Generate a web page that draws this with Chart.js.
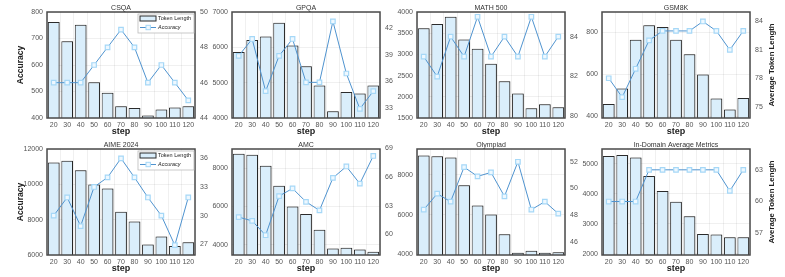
<!DOCTYPE html>
<html>
<head>
<meta charset="utf-8">
<script src="https://cdn.jsdelivr.net/npm/chart.js@4.4.0/dist/chart.umd.min.js"></script>
<style>
  html, body { margin: 0; padding: 0; background: #fff; width: 785px; height: 277px; overflow: hidden; }
  canvas { position: absolute; }
</style>
</head>
<body>
<script>
const steps = ['20', '30', '40', '50', '60', '70', '80', '90', '100', '110', '120'];

const csqaTokens = [762, 690, 752, 535, 495, 444, 438, 409, 432, 440, 444];
const csqaAcc = [46, 46, 46, 47, 48, 49, 48, 46, 47, 46, 45];
const gpqaTokens = [5865, 6205, 6310, 6697, 6054, 5467, 4919, 4189, 4738, 4690, 4919];
const gpqaAcc = [38.9, 40.8, 34.9, 38.9, 40.8, 35.9, 35.9, 42.8, 36.9, 32.9, 34.9];
const mathTokens = [3614, 3716, 3890, 3353, 3133, 2778, 2368, 2076, 1729, 1823, 1752];
const mathAcc = [83, 82, 84, 83, 85, 83, 84, 83, 85, 83, 84];
const gsmTokens = [459, 532, 763, 832, 824, 763, 694, 598, 484, 432, 487];
const gsmAcc = [78, 76, 79, 82, 83, 83, 83, 84, 83, 81, 83];
const aimeTokens = [11240, 11335, 10800, 9990, 9770, 8450, 7900, 6590, 7050, 6510, 6720];
const aimeAcc = [30, 31.9, 28.9, 33, 34, 36, 34, 31.9, 30, 26.9, 31.9];
const amcTokens = [8751, 8699, 8122, 7075, 6000, 5598, 4777, 3799, 3834, 3747, 3625];
const amcAcc = [61.8, 61.4, 59.9, 64.0, 64.8, 63.4, 62.5, 65.9, 67.1, 65.3, 68.2];
const olyTokens = [8975, 8941, 8874, 7479, 6454, 6000, 5008, 4084, 4185, 4084, 4100];
const olyAcc = [48.4, 49.6, 49.0, 51.6, 50.9, 51.2, 49.4, 52.0, 48.4, 49.0, 48.1];
const avgTokens = [5268, 5301, 5212, 4599, 4100, 3740, 3256, 2660, 2640, 2550, 2550];
const avgAcc = [60, 60, 60, 63, 63, 63, 63, 63, 63, 61, 63];

// tick labels
const csqaLeftTicks = [400, 500, 600, 700, 800], csqaRightTicks = [44, 46, 48, 50];
const gpqaLeftTicks = [4000, 5000, 6000, 7000], gpqaRightTicks = [33, 36, 39, 42];
const mathLeftTicks = [1500, 2000, 2500, 3000, 3500, 4000], mathRightTicks = [80, 82, 84];
const gsmLeftTicks = [400, 600, 800], gsmRightTicks = [75, 78, 81, 84];
const aimeLeftTicks = [6000, 8000, 10000, 12000], aimeRightTicks = [27, 30, 33, 36];
const amcLeftTicks = [4000, 6000, 8000], amcRightTicks = [60, 63, 66, 69];
const olyLeftTicks = [4000, 6000, 8000], olyRightTicks = [46, 48, 50, 52];
const avgLeftTicks = [2000, 3000, 4000, 5000], avgRightTicks = [57, 60, 63];

const LW = 40, RW = 34, TH = 12, BH = 19, PW = 148, PH = 106;
const FONT = "'Liberation Sans', Arial, sans-serif";

const panels = [
  { title: 'CSQA', tokens: csqaTokens, acc: csqaAcc, l: [400, 800], lt: csqaLeftTicks, r: [44, 50], rt: csqaRightTicks, x: 47, y: 12, legend: true, first: true },
  { title: 'GPQA', tokens: gpqaTokens, acc: gpqaAcc, l: [4000, 7000], lt: gpqaLeftTicks, r: [31.87, 43.85], rt: gpqaRightTicks, x: 232, y: 12 },
  { title: 'MATH 500', tokens: mathTokens, acc: mathAcc, l: [1500, 4000], lt: mathLeftTicks, r: [79.92, 85.24], rt: mathRightTicks, x: 417, y: 12 },
  { title: 'GSM8K', tokens: gsmTokens, acc: gsmAcc, l: [392, 895], lt: gsmLeftTicks, r: [73.8, 85.0], rt: gsmRightTicks, x: 602, y: 12, last: true },
  { title: 'AIME 2024', tokens: aimeTokens, acc: aimeAcc, l: [6000, 12000], lt: aimeLeftTicks, r: [25.87, 36.98], rt: aimeRightTicks, x: 47, y: 149, legend: true, first: true },
  { title: 'AMC', tokens: amcTokens, acc: amcAcc, l: [3460, 9000], lt: amcLeftTicks, r: [57.83, 68.93], rt: amcRightTicks, x: 232, y: 149 },
  { title: 'Olympiad', tokens: olyTokens, acc: olyAcc, l: [3965, 9300], lt: olyLeftTicks, r: [44.99, 52.96], rt: olyRightTicks, x: 417, y: 149 },
  { title: 'In-Domain Average Metrics', tokens: avgTokens, acc: avgAcc, l: [1957, 5500], lt: avgLeftTicks, r: [54.94, 64.97], rt: avgRightTicks, x: 602, y: 149, last: true }
];

const barShadow = {
  id: 'barShadow',
  beforeDatasetDraw(chart, args) {
    if (args.meta.type !== 'bar') return;
    const ctx = chart.ctx;
    ctx.save();
    ctx.shadowColor = 'rgba(0,0,0,0.35)';
    ctx.shadowOffsetX = 1.3;
    ctx.shadowOffsetY = 0;
    ctx.shadowBlur = 0;
  },
  afterDatasetDraw(chart, args) {
    if (args.meta.type === 'bar') chart.ctx.restore();
  }
};

function decor(p) {
  return {
    id: 'decor',
    afterDraw(chart) {
      const { ctx, chartArea: a } = chart;
      ctx.save();
      ctx.strokeStyle = '#4a4a4a';
      ctx.lineWidth = 1.5;
      ctx.strokeRect(a.left, a.top, a.right - a.left, a.bottom - a.top);
      ctx.fillStyle = '#333';
      ctx.font = '7px ' + FONT;
      ctx.textAlign = 'center';
      ctx.textBaseline = 'middle';
      ctx.fillText(p.title, (a.left + a.right) / 2, a.top - 4);
      if (p.last) {
        ctx.save();
        ctx.translate(chart.width - 12.3, (a.top + a.bottom) / 2);
        ctx.rotate(-Math.PI / 2);
        ctx.fillStyle = '#222';
        ctx.font = 'bold 7.8px ' + FONT;
        ctx.fillText('Average Token Length', 0, 0);
        ctx.restore();
      }
      if (p.legend) {
        const bx = a.right - 57, by = a.top + 2, bw = 56, bh = 19;
        ctx.fillStyle = 'rgba(255,255,255,0.9)';
        ctx.fillRect(bx, by, bw, bh);
        ctx.strokeStyle = '#bbb';
        ctx.lineWidth = 0.8;
        ctx.strokeRect(bx, by, bw, bh);
        ctx.fillStyle = '#daeefb';
        ctx.fillRect(bx + 2, by + 2, 16, 5);
        ctx.strokeStyle = '#2b2b2b';
        ctx.lineWidth = 1;
        ctx.strokeRect(bx + 2, by + 2, 16, 5);
        ctx.strokeStyle = '#4f93cf';
        ctx.beginPath();
        ctx.moveTo(bx + 2, by + 13.5);
        ctx.lineTo(bx + 18, by + 13.5);
        ctx.stroke();
        ctx.fillStyle = '#eef8ff';
        ctx.fillRect(bx + 8, by + 11.3, 4.4, 4.4);
        ctx.strokeStyle = '#a6d8f7';
        ctx.strokeRect(bx + 8, by + 11.3, 4.4, 4.4);
        ctx.fillStyle = '#222';
        ctx.font = '5.5px ' + FONT;
        ctx.textAlign = 'left';
        ctx.fillText('Token Length', bx + 20, by + 4.8);
        ctx.font = 'italic 5.5px ' + FONT;
        ctx.fillText('Accuracy', bx + 20, by + 13.5);
      }
      ctx.restore();
    }
  };
}

function makeChart(p) {
  const W = LW + PW + RW, H = TH + PH + BH;
  const c = document.createElement('canvas');
  c.width = W;
  c.height = H;
  c.style.left = (p.x - LW) + 'px';
  c.style.top = (p.y - TH) + 'px';
  c.style.width = W + 'px';
  c.style.height = H + 'px';
  document.body.appendChild(c);
  const tickFont = { family: FONT, size: 7 };
  const plain = v => String(v);
  new Chart(c, {
    type: 'bar',
    data: {
      labels: steps,
      datasets: [
        {
          type: 'line', label: 'Accuracy', data: p.acc, yAxisID: 'y1', order: 0,
          borderColor: '#4f93cf', borderWidth: 1, tension: 0,
          pointStyle: 'rect', pointRadius: 3.2, pointBackgroundColor: '#eef8ff',
          pointBorderColor: '#a6d8f7', pointBorderWidth: 1.2
        },
        {
          label: 'Token Length', data: p.tokens, yAxisID: 'y', order: 1,
          backgroundColor: '#daeefb', borderColor: '#2b2b2b', borderWidth: 1,
          barPercentage: 0.87, categoryPercentage: 1
        }
      ]
    },
    options: {
      responsive: false,
      animation: false,
      devicePixelRatio: 1,
      layout: { padding: { top: TH, left: 0, right: 0, bottom: 0 } },
      plugins: { legend: { display: false }, tooltip: { enabled: false } },
      scales: {
        x: {
          grid: { color: 'rgba(0,0,0,0.06)', drawTicks: false },
          border: { display: false },
          ticks: { font: tickFont, color: '#555', padding: 3, maxRotation: 0, autoSkip: false },
          title: { display: true, text: 'step', font: { family: FONT, size: 9, weight: 'bold' }, color: '#222', padding: 0 },
          afterFit(s) { s.height = BH; }
        },
        y: {
          position: 'left', min: p.l[0], max: p.l[1],
          afterBuildTicks(s) { s.ticks = p.lt.map(v => ({ value: v })); },
          grid: { color: 'rgba(0,0,0,0.06)', drawTicks: false },
          border: { display: false },
          ticks: { font: tickFont, color: '#555', padding: 4, callback: plain },
          title: { display: !!p.first, text: 'Accuracy', font: { family: FONT, size: 8.5, weight: 'bold' }, color: '#222', padding: { top: 8.5, bottom: 0 } },
          afterFit(s) { s.width = LW; }
        },
        y1: {
          position: 'right', min: p.r[0], max: p.r[1],
          afterBuildTicks(s) { s.ticks = p.rt.map(v => ({ value: v })); },
          grid: { display: false, drawTicks: false },
          border: { display: false },
          ticks: { font: tickFont, color: '#555', padding: 5, callback: plain },
          afterFit(s) { s.width = RW; }
        }
      }
    },
    plugins: [barShadow, decor(p)]
  });
}

panels.forEach(makeChart);
</script>
</body>
</html>
